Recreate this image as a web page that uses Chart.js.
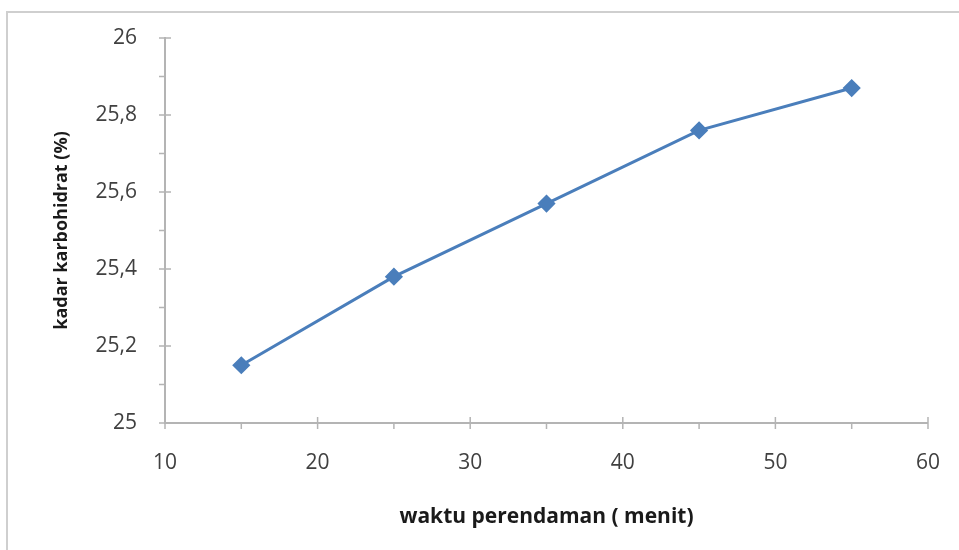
<!DOCTYPE html>
<html>
<head>
<meta charset="utf-8">
<script src="https://cdn.jsdelivr.net/npm/chart.js@4/dist/chart.umd.min.js"></script>
<style>
  html, body { margin: 0; padding: 0; background: #fff; }
  #wrap { width: 959px; height: 550px; }
</style>
</head>
<body>
<div id="wrap"><canvas id="chart"></canvas></div>
<script>
// data
var waktu = [15, 25, 35, 45, 55];
var kadar = [25.15, 25.38, 25.57, 25.76, 25.87];

var xTitle = 'waktu perendaman ( menit)';
var yTitle = 'kadar karbohidrat (%)';

var axisGray = '#b4b4b4';
var lineBlue = '#4a7ebb';

// draws the outer frame and the excel-like tick marks
var excelTicks = {
    id: 'excelTicks',
    beforeDraw: function(chart) {
        var ctx = chart.ctx;
        ctx.save();
        ctx.strokeStyle = '#cfcfcf';
        ctx.lineWidth = 2;
        ctx.beginPath();
        ctx.moveTo(7, 550);
        ctx.lineTo(7, 12);
        ctx.lineTo(959, 12);
        ctx.stroke();
        ctx.restore();
    },
    afterDraw: function(chart) {
        var ctx = chart.ctx;
        var x = chart.scales.x, y = chart.scales.y;
        var area = chart.chartArea;
        ctx.save();
        ctx.strokeStyle = axisGray;
        ctx.lineWidth = 1.5;
        ctx.beginPath();
        // y axis: major ticks cross the axis, minor ones only outside
        var yt = y.ticks;
        for (var i = 0; i < yt.length; i++) {
            var py = y.getPixelForValue(yt[i].value);
            ctx.moveTo(area.left - 6, py);
            ctx.lineTo(area.left + 6, py);
            if (i < yt.length - 1) {
                var pm = y.getPixelForValue((yt[i].value + yt[i + 1].value) / 2);
                ctx.moveTo(area.left - 6, pm);
                ctx.lineTo(area.left, pm);
            }
        }
        // x axis
        var xt = x.ticks;
        for (var j = 0; j < xt.length; j++) {
            var px = x.getPixelForValue(xt[j].value);
            ctx.moveTo(px, area.bottom - 6);
            ctx.lineTo(px, area.bottom + 6);
            if (j < xt.length - 1) {
                var qm = x.getPixelForValue((xt[j].value + xt[j + 1].value) / 2);
                ctx.moveTo(qm, area.bottom);
                ctx.lineTo(qm, area.bottom + 6);
            }
        }
        ctx.stroke();
        ctx.restore();
    }
};

var ctx = document.getElementById('chart');

new Chart(ctx, {
    type: 'line',
    data: {
        datasets: [{
            label: yTitle,
            data: waktu.map(function(w, i) { return { x: w, y: kadar[i] }; }),
            borderColor: lineBlue,
            backgroundColor: lineBlue,
            borderWidth: 3,
            pointStyle: 'rectRot',
            pointRadius: 7,
            pointHoverRadius: 7,
            tension: 0
        }]
    },
    options: {
        responsive: true,
        maintainAspectRatio: false,
        animation: false,
        layout: { padding: { left: 0, top: 38, right: 29, bottom: 0 } },
        plugins: {
            legend: { display: false },
            tooltip: { enabled: false }
        },
        scales: {
            x: {
                type: 'linear',
                min: 10,
                max: 60,
                afterFit: function(scale) { scale.height = 127; },
                ticks: {
                    stepSize: 10,
                    padding: 19,
                    color: '#404040',
                    font: { family: 'Open Sans', size: 21 }
                },
                grid: { display: false },
                border: { color: axisGray, width: 2 },
                title: {
                    display: true,
                    text: xTitle,
                    color: '#1a1a1a',
                    padding: { top: 0, bottom: 20 },
                    font: { family: 'Open Sans', size: 21, weight: 'bold' }
                }
            },
            y: {
                min: 25,
                max: 26,
                afterFit: function(scale) { scale.width = 165; },
                ticks: {
                    stepSize: 0.2,
                    padding: 20,
                    color: '#404040',
                    font: { family: 'Open Sans', size: 21 },
                    callback: function(value) {
                        return String(+value.toFixed(1)).replace('.', ',');
                    }
                },
                grid: { display: false },
                border: { color: axisGray, width: 2 },
                title: {
                    display: true,
                    text: yTitle,
                    color: '#1a1a1a',
                    padding: { top: 51, bottom: 0 },
                    font: { family: 'Open Sans', size: 18, weight: 'bold' }
                }
            }
        }
    },
    plugins: [excelTicks]
});
</script>
</body>
</html>
